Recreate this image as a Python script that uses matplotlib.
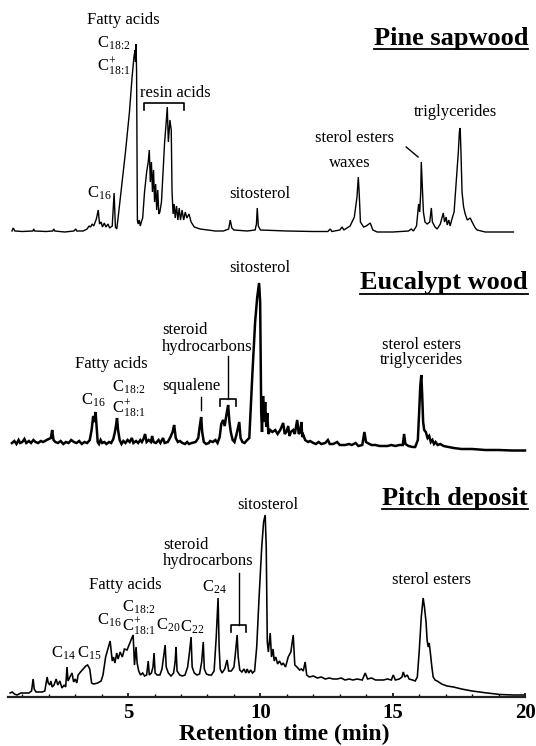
import matplotlib
matplotlib.use("Agg")
import matplotlib.pyplot as plt
from matplotlib.ticker import MultipleLocator
from matplotlib.lines import Line2D

plt.rcParams['font.family'] = ['Liberation Serif', 'DejaVu Serif']
plt.rcParams['mathtext.fontset'] = 'custom'
plt.rcParams['mathtext.rm'] = 'Liberation Serif'
plt.rcParams['mathtext.it'] = 'Liberation Serif:italic'
plt.rcParams['mathtext.bf'] = 'Liberation Serif:bold'

# ---------------- data: (retention time [min], detector signal) ----------------
PINE = [(0.61, 1), (0.66, 4), (0.72, 1), (1.00, 0.5), (1.40, 1), (1.43, 3), (1.47, 1), (1.90, 0.5),
        (2.15, 1), (2.19, 3), (2.23, 1), (2.60, 0), (2.95, 1), (3.02, 3), (3.06, 1), (3.30, 1),
        (3.45, 3), (3.52, 6), (3.58, 5), (3.64, 8), (3.70, 6), (3.80, 13), (3.87, 22), (3.92, 8),
        (3.98, 10), (4.03, 5), (4.10, 9), (4.16, 5), (4.24, 8), (4.30, 4), (4.40, 6), (4.47, 39),
        (4.52, 5), (4.57, 3), (4.62, 14), (4.75, 45), (4.90, 80), (5.05, 120), (5.15, 155),
        (5.22, 175), (5.26, 182), (5.28, 170), (5.30, 188), (5.32, 160), (5.35, 12), (5.38, 8),
        (5.42, 12), (5.46, 6), (5.50, 10), (5.55, 14), (5.62, 40), (5.70, 60), (5.76, 70),
        (5.80, 82), (5.84, 50), (5.88, 70), (5.92, 40), (5.96, 62), (6.00, 30), (6.04, 48),
        (6.08, 22), (6.12, 42), (6.16, 18), (6.20, 20), (6.26, 30), (6.32, 60), (6.38, 90),
        (6.44, 110), (6.48, 125), (6.52, 90), (6.58, 112), (6.63, 102), (6.66, 40), (6.70, 18),
        (6.74, 28), (6.78, 14), (6.83, 26), (6.88, 12), (6.93, 24), (6.98, 12), (7.04, 22),
        (7.10, 12), (7.16, 20), (7.22, 14), (7.30, 18), (7.38, 10), (7.50, 5), (7.72, 3),
        (8.00, 2), (8.30, 1), (8.60, 1), (8.80, 3), (8.86, 12), (8.92, 4), (9.00, 2), (9.50, 1),
        (9.80, 2), (9.85, 8), (9.88, 24), (9.92, 6), (10.00, 2), (11.00, 1), (12.00, 0.5),
        (12.55, 0.5), (12.64, 3), (12.70, 0.5), (13.00, 2), (13.09, 5), (13.15, 2), (13.39, 6),
        (13.55, 15), (13.65, 35), (13.70, 55), (13.74, 35), (13.78, 10), (13.90, 5), (14.00, 6),
        (14.15, 9), (14.25, 2), (14.41, 0), (15.00, 0), (15.60, 1), (15.70, 3), (15.78, 1),
        (15.90, 6), (15.98, 28), (16.02, 20), (16.06, 40), (16.08, 70), (16.12, 45), (16.16, 20),
        (16.22, 10), (16.30, 8), (16.40, 10), (16.46, 24), (16.50, 10), (16.60, 5), (16.68, 3),
        (16.80, 8), (16.91, 19), (16.96, 10), (17.02, 15), (17.06, 7), (17.12, 12), (17.17, 6),
        (17.25, 14), (17.32, 20), (17.40, 50), (17.48, 80), (17.52, 100), (17.55, 104),
        (17.58, 80), (17.62, 40), (17.68, 25), (17.74, 18), (17.82, 12), (17.93, 14), (18.00, 10),
        (18.12, 4), (18.19, 2), (18.50, 0), (19.56, 0)]

EUCALYPT = [(0.61, 9), (0.70, 11), (0.78, 8), (0.86, 12), (0.92, 9), (1.00, 10), (1.08, 13),
            (1.15, 9), (1.25, 11), (1.33, 9), (1.42, 12), (1.50, 10), (1.60, 9), (1.70, 11),
            (1.78, 10), (1.86, 11), (1.92, 12), (2.00, 13), (2.08, 14), (2.13, 22), (2.18, 12),
            (2.25, 10), (2.35, 9), (2.45, 11), (2.55, 8), (2.65, 10), (2.75, 9), (2.85, 12),
            (2.95, 10), (3.05, 9), (3.15, 11), (3.25, 8), (3.35, 10), (3.45, 9), (3.55, 12),
            (3.62, 22), (3.68, 36), (3.72, 30), (3.77, 40), (3.81, 25), (3.85, 10), (3.90, 8),
            (3.96, 12), (4.02, 9), (4.10, 10), (4.18, 8), (4.28, 10), (4.36, 9), (4.44, 13),
            (4.50, 20), (4.55, 28), (4.58, 34), (4.62, 22), (4.68, 12), (4.75, 8), (4.82, 11),
            (4.90, 9), (4.98, 12), (5.06, 10), (5.14, 14), (5.20, 9), (5.30, 11), (5.38, 9),
            (5.46, 12), (5.52, 10), (5.58, 13), (5.64, 18), (5.70, 10), (5.78, 12), (5.86, 10),
            (5.91, 16), (5.96, 10), (6.05, 9), (6.15, 12), (6.22, 9), (6.32, 14), (6.38, 9),
            (6.50, 10), (6.60, 15), (6.68, 20), (6.74, 27), (6.80, 14), (6.88, 10), (6.96, 11),
            (7.05, 9), (7.15, 8), (7.23, 10), (7.30, 8), (7.40, 9), (7.55, 10), (7.65, 14),
            (7.72, 28), (7.76, 35), (7.80, 20), (7.86, 10), (7.95, 8), (8.05, 9), (8.10, 11),
            (8.20, 10), (8.30, 12), (8.38, 9), (8.46, 15), (8.52, 28), (8.59, 32), (8.65, 26),
            (8.72, 38), (8.78, 47), (8.83, 30), (8.88, 20), (8.95, 12), (9.02, 10), (9.10, 18),
            (9.20, 30), (9.25, 14), (9.32, 10), (9.40, 9), (9.50, 12), (9.58, 14), (9.70, 80),
            (9.80, 130), (9.88, 155), (9.95, 169), (9.99, 150), (10.03, 40), (10.06, 20),
            (10.10, 56), (10.14, 30), (10.18, 50), (10.22, 25), (10.26, 39), (10.30, 18),
            (10.37, 22), (10.45, 20), (10.56, 22), (10.65, 18), (10.75, 22), (10.86, 29),
            (10.92, 18), (10.98, 20), (11.05, 26), (11.10, 16), (11.15, 20), (11.24, 22),
            (11.30, 18), (11.39, 32), (11.45, 18), (11.50, 20), (11.55, 30), (11.58, 15),
            (11.62, 17), (11.69, 12), (11.80, 10), (11.88, 11), (12.00, 9), (12.10, 8),
            (12.20, 10), (12.30, 8), (12.45, 9), (12.55, 12), (12.62, 8), (12.75, 8), (12.90, 10),
            (13.00, 7), (13.20, 7), (13.35, 8), (13.45, 7), (13.60, 9), (13.70, 6), (13.85, 7),
            (13.93, 20), (13.99, 10), (14.05, 9), (14.20, 7), (14.35, 7), (14.50, 6), (14.65, 6),
            (14.80, 6), (14.95, 7), (15.10, 6), (15.25, 7), (15.38, 7), (15.43, 18), (15.48, 8),
            (15.60, 6), (15.75, 5), (15.85, 5), (15.95, 12), (16.00, 40), (16.04, 65), (16.08, 77),
            (16.11, 60), (16.15, 30), (16.19, 22), (16.25, 20), (16.32, 14), (16.38, 16),
            (16.44, 10), (16.50, 12), (16.56, 8), (16.62, 10), (16.70, 7), (16.80, 8), (16.92, 6),
            (17.10, 5), (17.30, 4), (17.60, 3), (18.00, 3), (18.50, 2), (19.00, 2), (19.50, 1.5),
            (20.00, 1.5)]

PITCH = [(0.54, 4), (0.62, 5), (0.70, 3), (0.80, 2), (0.95, 4), (1.10, 4), (1.25, 4), (1.35, 6),
         (1.41, 18), (1.45, 8), (1.52, 5), (1.62, 5), (1.75, 5), (1.85, 6), (1.94, 20), (1.98, 14),
         (2.04, 12), (2.08, 16), (2.13, 10), (2.20, 12), (2.28, 18), (2.34, 12), (2.42, 16),
         (2.50, 9), (2.58, 12), (2.64, 10), (2.69, 30), (2.73, 16), (2.80, 20), (2.88, 24),
         (2.94, 15), (3.00, 18), (3.06, 14), (3.11, 22), (3.20, 25), (3.30, 28), (3.40, 31),
         (3.47, 32), (3.55, 28), (3.62, 14), (3.70, 13), (3.85, 14), (3.98, 16), (4.05, 22),
         (4.15, 40), (4.32, 56), (4.40, 36), (4.45, 40), (4.50, 34), (4.57, 44), (4.62, 38),
         (4.70, 45), (4.78, 40), (4.86, 48), (4.96, 47), (5.08, 55), (5.19, 62), (5.24, 32),
         (5.30, 50), (5.34, 34), (5.40, 26), (5.47, 22), (5.55, 24), (5.62, 21), (5.70, 22),
         (5.76, 36), (5.80, 22), (5.88, 24), (5.94, 30), (5.98, 44), (6.02, 24), (6.10, 22),
         (6.20, 22), (6.28, 28), (6.35, 42), (6.40, 52), (6.44, 30), (6.52, 24), (6.62, 21),
         (6.72, 24), (6.78, 36), (6.81, 50), (6.85, 26), (6.95, 22), (7.05, 21), (7.15, 22),
         (7.25, 30), (7.32, 45), (7.38, 60), (7.42, 30), (7.50, 24), (7.60, 22), (7.70, 23),
         (7.78, 35), (7.84, 55), (7.88, 28), (7.96, 23), (8.05, 22), (8.15, 22), (8.25, 26),
         (8.33, 60), (8.40, 99), (8.44, 50), (8.48, 28), (8.55, 24), (8.65, 28), (8.74, 37),
         (8.80, 26), (8.90, 26), (9.00, 30), (9.06, 45), (9.12, 62), (9.16, 40), (9.22, 27),
         (9.30, 25), (9.38, 28), (9.45, 24), (9.50, 28), (9.56, 24), (9.63, 27), (9.70, 24),
         (9.78, 26), (9.86, 50), (9.95, 100), (10.05, 150), (10.12, 175), (10.18, 182),
         (10.22, 150), (10.26, 55), (10.30, 45), (10.37, 64), (10.42, 40), (10.48, 48),
         (10.52, 36), (10.58, 40), (10.65, 33), (10.72, 36), (10.80, 32), (10.86, 34),
         (10.95, 30), (11.05, 40), (11.15, 45), (11.24, 62), (11.30, 32), (11.38, 30),
         (11.48, 27), (11.55, 28), (11.62, 26), (11.69, 35), (11.75, 22), (11.85, 20),
         (12.00, 21), (12.15, 19), (12.30, 20), (12.45, 18), (12.60, 19), (12.75, 18),
         (12.90, 18), (13.05, 19), (13.20, 17), (13.35, 18), (13.50, 17), (13.65, 18),
         (13.85, 17), (13.96, 24), (14.05, 18), (14.20, 19), (14.35, 17), (14.50, 17),
         (14.65, 17), (14.80, 18), (14.95, 17), (15.02, 22), (15.10, 17), (15.25, 18),
         (15.35, 20), (15.40, 25), (15.46, 20), (15.55, 22), (15.62, 18), (15.75, 17),
         (15.85, 16), (15.93, 20), (16.00, 45), (16.08, 80), (16.15, 99), (16.20, 90),
         (16.26, 75), (16.30, 57), (16.34, 50), (16.38, 54), (16.42, 45), (16.48, 30),
         (16.53, 20), (16.60, 17), (16.68, 16), (16.85, 13), (17.05, 11), (17.30, 10),
         (17.60, 8), (18.00, 6), (18.57, 4), (19.06, 2.5), (19.56, 2), (19.95, 2)]

PANEL_TITLES = ["Pine sapwood", "Eucalypt wood", "Pitch deposit"]
X_TICKS = [5, 10, 15, 20]
X_LABEL = "Retention time (min)"

# ---------------- layout ----------------
W, H = 536, 746
fig = plt.figure(figsize=(W / 100, H / 100), dpi=100)
XMIN, XMAX = 0.46, 20.0
AX_L, AX_R = 8, 525


def add_panel(base_px, top_px):
    hgt = base_px - top_px
    ax = fig.add_axes([AX_L / W, (H - base_px) / H, (AX_R - AX_L) / W, hgt / H])
    ax.set_xlim(XMIN, XMAX)
    ax.set_ylim(0, hgt)
    for s in ax.spines.values():
        s.set_visible(False)
    ax.set_yticks([])
    ax.patch.set_alpha(0)
    return ax


ax1 = add_panel(232, 5)
ax2 = add_panel(452, 255)
ax3 = add_panel(697, 470)
for ax in (ax1, ax2):
    ax.set_xticks([])

for ax, data, lw in ((ax1, PINE, 1.0), (ax2, EUCALYPT, 1.8), (ax3, PITCH, 1.15)):
    t, s = zip(*data)
    ax.plot(t, s, color='black', lw=lw, solid_joinstyle='miter', clip_on=False)

# bottom axis
ax3.spines['bottom'].set_visible(True)
ax3.spines['bottom'].set_linewidth(1.6)
ax3.spines['bottom'].set_color('#222222')
ax3.set_xticks(X_TICKS)
ax3.set_xticklabels([str(v) for v in X_TICKS], fontsize=15, fontweight='bold')
ax3.xaxis.set_minor_locator(MultipleLocator(1))
ax3.tick_params(axis='x', which='major', direction='in', length=3, width=1.2, pad=4)
ax3.tick_params(axis='x', which='minor', direction='in', length=2, width=1)

fig.text(284 / W, 1 - 740 / H, X_LABEL, ha='center', va='baseline', fontsize=17, fontweight='bold')

FS = 12
C182 = r'C$_{18\!:\!2}$'
C181 = r'C$^{+}_{18\!:\!1}$'


def lab(ax, x, y, s, ha='center', fs=FS):
    ax.text(x, y, s, ha=ha, va='center', fontsize=fs, clip_on=False)


def bracket(ax, x0, x1, y, drop=7, stem=None):
    ax.plot([x0, x0, x1, x1], [y - drop, y, y, y - drop], color='black', lw=1.2, clip_on=False)
    if stem is not None:
        xm = (x0 + x1) / 2
        ax.plot([xm, xm], [y, stem], color='black', lw=1.0, clip_on=False)


# Pine sapwood annotations
lab(ax1, 4.81, 212, 'Fatty acids')
lab(ax1, 3.83, 189, C182, ha='left')
lab(ax1, 3.83, 165, C181, ha='left')
lab(ax1, 6.78, 139, 'resin acids')
bracket(ax1, 5.60, 7.12, 129)
lab(ax1, 3.90, 39, r'C$_{16}$')
lab(ax1, 9.99, 38, 'sitosterol')
lab(ax1, 13.39, 69, 'waxes')
lab(ax1, 13.54, 94, 'sterol esters')
ax1.plot([15.51, 15.96], [85, 75], color='black', lw=1.0, clip_on=False)
lab(ax1, 17.36, 120, 'triglycerides')

# Eucalypt annotations
lab(ax2, 9.99, 184, 'sitosterol')
lab(ax2, 6.29, 122, 'steroid', ha='left')
lab(ax2, 6.29, 105, 'hydrocarbons', ha='left')
bracket(ax2, 8.48, 9.08, 53, stem=96)
lab(ax2, 7.40, 66, 'squalene')
ax2.plot([7.76, 7.76], [55, 42], color='black', lw=1.0, clip_on=False)
lab(ax2, 4.36, 88, 'Fatty acids')
lab(ax2, 3.70, 52, r'C$_{16}$')
lab(ax2, 4.38, 65, C182, ha='left')
lab(ax2, 4.38, 43, C181, ha='left')
lab(ax2, 16.08, 107, 'sterol esters')
lab(ax2, 16.08, 92, 'triglycerides')

# Pitch deposit annotations
lab(ax3, 10.29, 192, 'sitosterol')
lab(ax3, 6.32, 152, 'steroid', ha='left')
lab(ax3, 6.32, 136, 'hydrocarbons', ha='left')
bracket(ax3, 8.89, 9.46, 72, stem=124)
lab(ax3, 8.25, 110, r'C$_{24}$')
lab(ax3, 7.42, 70, r'C$_{22}$')
lab(ax3, 6.52, 72, r'C$_{20}$')
lab(ax3, 4.78, 90, C182, ha='left')
lab(ax3, 4.78, 70, C181, ha='left')
lab(ax3, 4.28, 77, r'C$_{16}$')
lab(ax3, 4.89, 112, 'Fatty acids')
lab(ax3, 2.54, 44, r'C$_{14}$')
lab(ax3, 3.53, 44, r'C$_{15}$')
lab(ax3, 16.46, 117, 'sterol esters')

# Panel titles (bold, underlined)
title_py = [38, 283, 498]
titles = []
for name, py in zip(PANEL_TITLES, title_py):
    titles.append(fig.text(528 / W, 1 - py / H, name, ha='right', va='center',
                           fontsize=19, fontweight='bold'))

fig.canvas.draw()
r = fig.canvas.get_renderer()
for tx in titles:
    bb = tx.get_window_extent(r)
    y = (bb.y0 + 0.5) / fig.bbox.height
    fig.add_artist(Line2D([bb.x0 / fig.bbox.width, bb.x1 / fig.bbox.width], [y, y],
                          transform=fig.transFigure, color='black', lw=1.3))

fig.savefig('out.png', dpi=100)
